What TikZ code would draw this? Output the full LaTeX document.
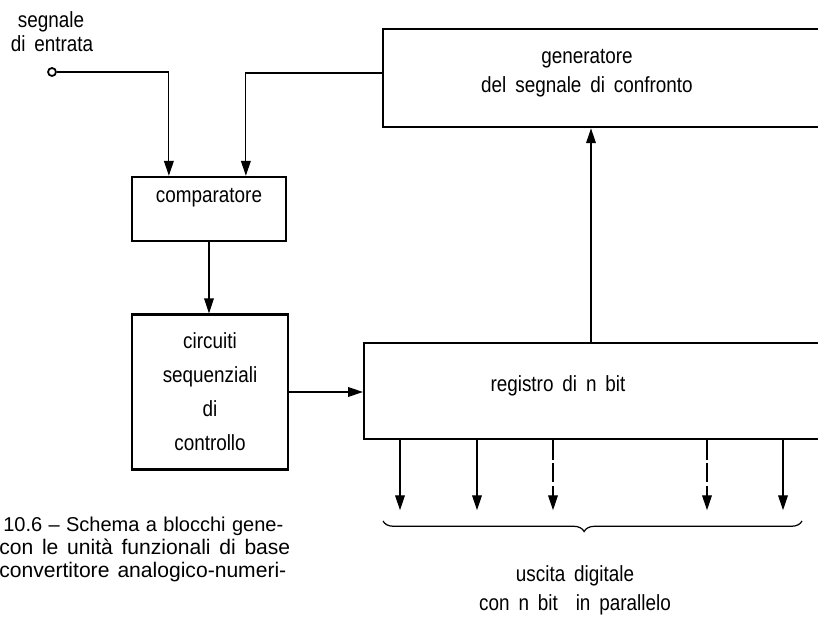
\documentclass[tikz,border=0pt]{standalone}
\usepackage{fontspec}
\setmainfont{Liberation Sans}[FakeStretch=0.86,WordSpace=1.7]
\newfontfamily\capfont{Liberation Sans}
\usetikzlibrary{arrows.meta,calc,decorations.pathreplacing}
\newcommand{\capline}[2]{\makebox[#1][s]{#2}}

\begin{document}
\begin{tikzpicture}
[
x=0.02cm, y=-0.02cm, >={Triangle[width=5.5pt,length=8.5pt]},
font=\fontsize{12.5}{16.5}\selectfont,
block/.style    = {draw, line width=1.3pt, rectangle, inner sep=0pt, align=center},
wire/.style     = {line width=0.7pt},
bitline/.style  = {wire, dash pattern=on 11pt off 2pt},
caption/.style  = {anchor=base west, inner sep=0pt, font=\capfont\fontsize{12}{12.5}\selectfont},
]
\useasboundingbox (0,0) rectangle (818,617);
\clip (0,0) rectangle (818,617);

% blocks
\node at (209,209)[block, minimum width=3.08cm, minimum height=1.28cm, text depth=16pt] (comp) {comparatore};
\node at (210,392)[block, minimum width=3.12cm, minimum height=3.1cm,
  font=\fontsize{12.5}{19.3}\selectfont] (circ) {circuiti\\sequenziali\\di\\controllo};
\node at (382,28)[block, anchor=north west, minimum width=9.6cm, minimum height=1.96cm] (gen) {};
\node at (363,342)[block, anchor=north west, minimum width=10cm, minimum height=1.92cm] (reg) {};
\node at (587,73)[align=center] (gentext) {generatore\\del segnale di confronto};
\node at (558,386) (regtext) {registro di n bit};

% input terminal
\node at (51,22) (inlab1) {segnale};
\node at (52,44) (inlab2) {di entrata};
\node at (52,72)[circle, draw, line width=1pt, inner sep=0pt, minimum size=0.16cm] (inp) {};

% connections
\draw[wire,->] (inp.east) -| ($(comp.north west)+(38,0)$);
\draw[wire,->] ($(gen.north west)+(0,45)$) -| ($(comp.north west)+(115,0)$);
\draw[wire,->] (comp.south) -- (comp.south |- circ.north);
\draw[wire,->] (circ.east) -- (circ.east -| reg.west);
\draw[wire,->] ($(reg.north west)+(228,0)$) coordinate (regout) -- (regout |- gen.south);

% parallel outputs
\foreach \dx/\sty in {37/wire, 114/wire, 190/bitline, 344/bitline, 420/wire}
  \draw[\sty,->] ($(reg.south west)+(\dx,0)$) -- ++(0,70);
\draw[wire, decorate, decoration={brace, mirror, amplitude=6pt, aspect=0.48}]
  (383,521) coordinate (brl) -- (802,521) coordinate (brr);
\node at (575,590)[align=center, font=\fontsize{12.5}{16.4}\selectfont] (outlab) {uscita digitale\\con n bit\ \ in parallelo};

% caption
\node at (3,532)[caption, font=\capfont\fontsize{11.4}{12.5}\selectfont] (cap1) {\capline{5.6cm}{10.6 – Schema a blocchi gene-}};
\node at (-1,555)[caption] (cap2) {\capline{5.82cm}{con le unità funzionali di base}};
\node at (-1,578)[caption] (cap3) {\capline{5.74cm}{convertitore analogico-numeri-}};
\end{tikzpicture}
\end{document}
